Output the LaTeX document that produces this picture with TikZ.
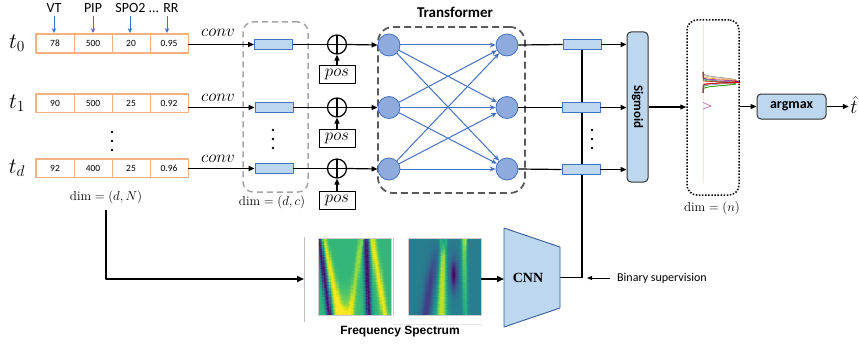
\documentclass[tikz,border=0pt]{standalone}
\usepackage{fix-cm}
\usepackage{fontspec}
\usepackage{pgfplots}
\pgfplotsset{compat=1.18}
\usetikzlibrary{arrows.meta,calc,backgrounds}
\newfontfamily\carl{Carlito}
\newfontfamily\arl{Liberation Sans}
\newfontfamily\tms{Liberation Serif}
\definecolor{orng}{HTML}{F4B183}
\definecolor{bluE}{HTML}{4472C4}
\definecolor{lblue}{HTML}{BDD7EE}
\definecolor{cblue}{HTML}{8FAADC}
\definecolor{dgray}{HTML}{595959}
\definecolor{mgray}{HTML}{A6A6A6}
\pgfplotsset{specax/.style={anchor=south west,scale only axis,width=73pt,height=77pt,hide axis,view={0}{90},xmin=0,xmax=1,ymin=0,ymax=1,colormap/viridis,point meta min=0,point meta max=1}}
\begin{document}
\begin{tikzpicture}[x=1pt,y=-1pt,line join=round,
  vcell/.style={draw=orng,line width=0.9pt,minimum width=38pt,minimum height=18pt,inner sep=0pt,font=\carl\fontsize{9.5}{10}\selectfont},
  hdr/.style={font=\carl\fontsize{14}{15}\selectfont,inner sep=1pt},
  tlab/.style={font=\fontsize{22}{24}\selectfont,inner sep=0pt},
  convl/.style={font=\fontsize{17}{18}\selectfont,inner sep=0pt},
  dimlab/.style={font=\fontsize{13}{14}\selectfont,inner sep=0pt},
  feat/.style={draw=bluE,fill=lblue,line width=0.8pt,minimum width=38pt,minimum height=10pt,inner sep=0pt},
  opl/.style={circle,draw,fill=white,line width=1.2pt,minimum size=19pt,inner sep=0pt,path picture={\draw[line width=1.2pt] (path picture bounding box.north) -- (path picture bounding box.south) (path picture bounding box.west) -- (path picture bounding box.east);}},
  posb/.style={draw,line width=0.8pt,minimum width=36pt,minimum height=18pt,inner sep=0pt,font=\fontsize{17}{18}\selectfont},
  neur/.style={circle,draw=bluE,fill=cblue,line width=0.8pt,minimum size=22pt,inner sep=0pt},
  ln/.style={line width=1.2pt},
  arr/.style={line width=1.2pt,-{Triangle[length=6pt,width=5pt]}},
  barr/.style={line width=1pt,draw=bluE,-{Stealth[length=5pt,width=4.5pt]}},
  tarr/.style={line width=1pt,draw=bluE,-{Stealth[length=6pt,width=5pt]}},
  thk/.style={line width=2.2pt,-{Triangle[length=7pt,width=6pt]}},
  bbox/.style={draw=black!80,fill=lblue,line width=1pt,rounded corners=4pt,inner sep=0pt},
]
\useasboundingbox (0,0) rectangle (859,345);

% ---------- input rows ----------
\node[hdr] (hVT) at (54,8) {VT};
\node[hdr] (hPIP) at (93,8) {PIP};
\node[hdr] (hSR) at (147,8) {SPO2 ... RR};
\foreach \r/\yy/\a/\b/\c/\d in {0/43.5/78/500/20/0.95,1/103/90/500/25/0.92,2/168/92/400/25/0.96}{
  \node[vcell] (cA\r) at (55,\yy) {\a};
  \node[vcell] (cB\r) at (93,\yy) {\b};
  \node[vcell] (cC\r) at (131,\yy) {\c};
  \node[vcell] (cD\r) at (169,\yy) {\d};
  \draw[orng,line width=1.6pt] (cA\r.north west) rectangle (cD\r.south east);
}
\coordinate (aS) at (130,0);
\coordinate (aR) at (167,0);
\draw[barr,shorten <=2pt,shorten >=1pt] (hVT.south) -- (hVT.south |- cA0.north);
\draw[barr,shorten <=2pt,shorten >=1pt] (hPIP.south) -- (hPIP.south |- cB0.north);
\draw[barr,shorten <=2pt,shorten >=1pt] (aS |- hSR.south) -- (aS |- cC0.north);
\draw[barr,shorten <=2pt,shorten >=1pt] (aR |- hSR.south) -- (aR |- cD0.north);

\node[tlab] (t0) at (17,43) {$t_0$};
\node[tlab] (t1) at (17,103) {$t_1$};
\node[tlab] (td) at (17,168) {$t_d$};
\foreach \yy in {132,141,150} \fill (112,\yy) circle (1.4pt);
\node[dimlab] (dimN) at (106,197) {$\mathrm{dim}=(d,N)$};

% ---------- conv features ----------
\node[draw=mgray,line width=1.5pt,dash pattern=on 6pt off 4pt,rounded corners=10pt,minimum width=65pt,minimum height=170pt] (cbox) at (275.5,107) {};
\node[feat] (f0) at (273.5,44.5) {};
\node[feat] (f1) at (274,107.5) {};
\node[feat] (f2) at (274,168.5) {};
\foreach \yy in {130,139,148} \fill (273,\yy) circle (1.4pt);
\node[dimlab] (dimC) at (272,202) {$\mathrm{dim}=(d,c)$};
\draw[arr] (cD0.east |- f0) -- (f0.west);
\draw[arr] (cD1.east |- f1) -- (f1.west);
\draw[arr] (cD2.east |- f2) -- (f2.west);
\node[convl] (cv0) at (218,33) {$conv$};
\node[convl] (cv1) at (218,98) {$conv$};
\node[convl] (cv2) at (218,159) {$conv$};

% ---------- positional encoding ----------
\node[opl] (o0) at (337,44.5) {};
\node[opl] (o1) at (337,107.5) {};
\node[opl] (o2) at (337,168.5) {};
\node[posb] (p0) at (337,74) {$pos$};
\node[posb] (p1) at (337,138) {$pos$};
\node[posb] (p2) at (337,200.5) {$pos$};
\foreach \i in {0,1,2}{
  \draw[ln] (f\i.east) -- (o\i.west);
  \draw[arr] (p\i.north) -- (o\i.south);
}

% ---------- transformer ----------
\node[draw=dgray,line width=1.8pt,dash pattern=on 7pt off 4pt,rounded corners=15pt,minimum width=147pt,minimum height=166pt] (tbox) at (451.5,110) {};
\node[font=\carl\bfseries\fontsize{15}{16}\selectfont] (ttl) at (455,12) {Transformer};
\node[neur] (L0) at (389,45) {};
\node[neur] (L1) at (389,107.5) {};
\node[neur] (L2) at (389,169) {};
\node[neur] (R0) at (507,45) {};
\node[neur] (R1) at (507,107.5) {};
\node[neur] (R2) at (507,169) {};
\foreach \i in {0,1,2}{
  \draw[arr] (o\i.east) -- (L\i.west);
  \foreach \j in {0,1,2}{\draw[tarr] (L\i) -- (R\j);}
}

% ---------- output features + sigmoid ----------
\node[feat] (g0) at (582,44.5) {};
\node[feat] (g1) at (581,107.5) {};
\node[feat] (g2) at (581,169.5) {};
\foreach \yy in {130,139,148} \fill (592,\yy) circle (1.4pt);
\node[bbox,minimum width=21pt,minimum height=150pt] (sig) at (637.5,107) {};
\node[rotate=-90,font=\carl\bfseries\fontsize{13}{14}\selectfont] (sigt) at (sig.center) {Sigmoid};
\foreach \i in {0,1,2}{
  \draw[ln] (R\i.east) -- (g\i.west);
  \draw[arr] (g\i.east) -- (sig.west |- g\i);
}

% ---------- distribution box ----------
\node[draw,line width=1.5pt,dash pattern=on 1.5pt off 1.6pt,rounded corners=10pt,minimum width=52pt,minimum height=175pt] (dbox) at (713,107.5) {};
\draw[orange!20,line width=0.8pt] (703,23) -- (703,183);
\foreach \c/\m/\a/\s in {gray/80/33/10,brown!70/80.5/34/8,olive/83.5/32/7,orange/81/34/5,green!60!black/84/33/5,cyan!70!black/82.5/31/4,violet/81.5/35/3,red/82.5/37/0.6}{
  \draw[\c,line width=0.5pt] plot[domain=72:93,samples=71,smooth] ({703+\a*exp(-((\x-\m)^2)/\s)},\x);
}
\draw[violet!60,line width=0.6pt] (703,102.5) -- (711,106) -- (703,109);
\node[dimlab] (dimn) at (712,208) {$\mathrm{dim}=(n)$};
\draw[arr] (sig.east) -- (sig.east -| dbox.west);

\node[bbox,minimum width=69pt,minimum height=25pt,font=\carl\bfseries\fontsize{14}{15}\selectfont] (amax) at (791.5,106.5) {argmax};
\draw[arr] (dbox.east |- amax) -- (amax.west);
\node[tlab,font=\fontsize{20}{22}\selectfont] (that) at (854,105) {$\hat{t}$};
\draw[arr,shorten >=1.5pt] (amax.east) -- (amax.east -| that.west);

% ---------- frequency spectrum ----------
\coordinate (imA) at (318,315);
\coordinate (imB) at (408,315);
\begin{axis}[specax,at={(imA)}]
\addplot3[surf,shader=flat,domain=0:1,y domain=0:1,samples=64]
 {0.66
  -0.66*exp(-((x-(0.02+0.14*(1-y))+0.012*sin(9000*y))/0.04)^2)
  +0.34*exp(-((x-(0.08+0.22*(1-y))+0.012*sin(9000*y))/(0.035+0.03*(1-y)))^2)
  +0.34*exp(-((x-0.36)/0.09)^2-((y)/0.1)^2)
  +0.12*exp(-((x-0.4)/0.14)^2-((y-0.15)/0.2)^2)
  +0.22*exp(-((x-(0.6-0.16*(1-y))+0.012*sin(9000*y))/0.035)^2)
  -0.66*exp(-((x-(0.66+0.04*(1-y))+0.012*sin(9000*y))/0.04)^2)
  +0.34*exp(-((x-(0.74+0.18*(1-y))+0.012*sin(9000*y))/0.045)^2)
  +0.25*exp(-((x-0.62)/0.012)^2-((1-y)/0.1)^2)};
\end{axis}
\begin{axis}[specax,at={(imB)}]
\addplot3[surf,shader=flat,domain=0:1,y domain=0:1,samples=64]
 {0.42
  +0.5*exp(-((x-(0.49-0.03*(1-y))+0.01*sin(9000*y))/(0.03+0.05*(1-y)))^2)*min(1,0.3+3*(1-y))
  -0.24*exp(-((x-(0.4-0.16*(1-y)))/0.07)^2)*min(1,2*(1-y))
  -0.42*exp(-((x-0.63)/0.05)^2-((0.53-y)/0.2)^2)
  +0.42*exp(-((x-(0.77+0.02*(1-y))+0.01*sin(9000*y))/0.035)^2)*(1-0.45*(1-y))
  +0.3*exp(-((x-0.45)/0.012)^2-((1-y)/0.12)^2)
  +0.3*exp(-((x-0.53)/0.012)^2-((1-y)/0.12)^2)
  +0.3*exp(-((x-0.79)/0.012)^2-((1-y)/0.12)^2)};
\end{axis}
\node[draw=gray!40,line width=0.8pt,minimum width=73pt,minimum height=77pt,inner sep=0pt] (img1) at (354.5,276.5) {};
\node[draw=gray!40,line width=0.8pt,minimum width=73pt,minimum height=77pt,inner sep=0pt] (img2) at (444.5,276.5) {};
\draw[gray!50,line width=0.8pt] (304,237) -- (304,322);
\draw[gray!40,line width=0.8pt] (393,238) -- (393,316);
\draw[gray!20,line width=0.6pt] (393,324) -- (482,324);
\node[font=\arl\bfseries\fontsize{12}{13}\selectfont] (fs) at (400,332) {Frequency Spectrum};
\coordinate (specIn) at (304,279);
\draw[thk,shorten <=6pt] (dimN.south) |- (specIn);

% ---------- CNN ----------
\coordinate (cnnL) at (504,279);
\coordinate (cnnR) at (560,277.5);
\draw[draw=bluE!80!black,fill=lblue,line width=0.9pt] (504,228) -- (560,247) -- (560,308) -- (504,327) -- cycle;
\node[font=\tms\bfseries\fontsize{14}{15}\selectfont] (cnnt) at (528,278) {CNN};
\draw[thk] (img2.east |- cnnL) -- (cnnL);
\begin{scope}[on background layer]
\draw[ln] (g0.center) -- (g0.center |- cnnR) -- (cnnR);
\end{scope}
\node[font=\carl\fontsize{12}{13}\selectfont,anchor=west,inner sep=0pt] (bsup) at (617,278) {Binary supervision};
\coordinate (bsTip) at (587,278);
\draw[line width=1pt,-{Triangle[length=5pt,width=4pt]},shorten <=7pt] (bsup.west) -- (bsTip);
\end{tikzpicture}
\end{document}
